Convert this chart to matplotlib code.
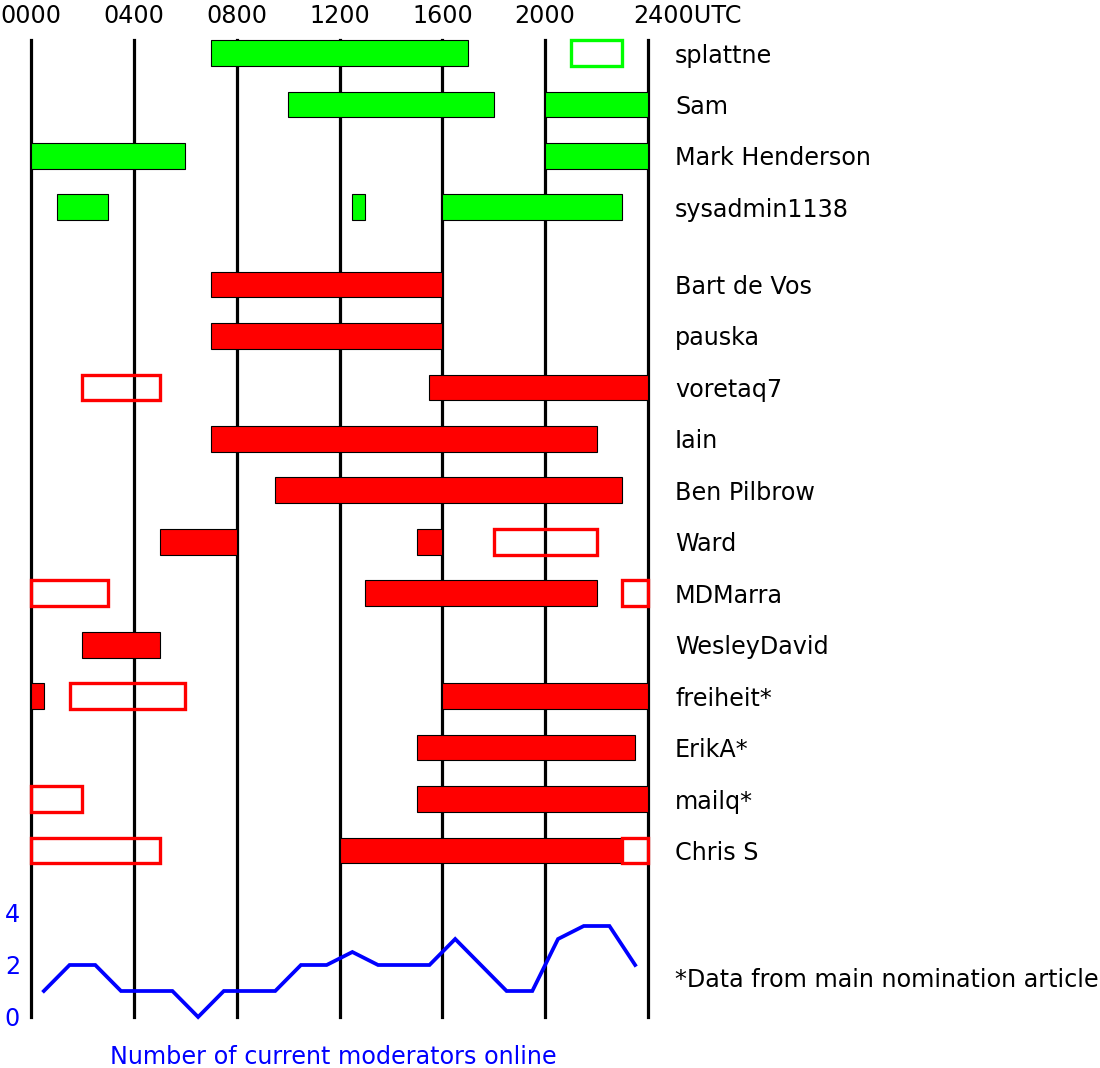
import matplotlib
matplotlib.use("Agg")
import matplotlib.pyplot as plt

plt.rcParams['font.family'] = ['DejaVu Sans']

W, H = 1100, 1068
names = ["splattne", "Sam", "Mark Henderson", "sysadmin1138",
         "Bart de Vos", "pauska", "voretaq7", "Iain", "Ben Pilbrow", "Ward",
         "MDMarra", "WesleyDavid", "freiheit*", "ErikA*", "mailq*", "Chris S"]
row_pos = [0, 1, 2, 3, 4.5, 5.5, 6.5, 7.5, 8.5, 9.5, 10.5, 11.5, 12.5, 13.5, 14.5, 15.5]
colors = ["#00ff00"] * 4 + ["#ff0000"] * 12

# (start hour, end hour) filled bars
filled = [
    [(7, 17)],
    [(10, 18), (20, 24)],
    [(0, 6), (20, 24)],
    [(1, 3), (12.5, 13), (16, 23)],
    [(7, 16)],
    [(7, 16)],
    [(15.5, 24)],
    [(7, 22)],
    [(9.5, 23)],
    [(5, 8), (15, 16)],
    [(13, 22)],
    [(2, 5)],
    [(0, 0.5), (16, 24)],
    [(15, 23.5)],
    [(15, 24)],
    [(12, 23)],
]
# outline-only (uncertain) bars
outline = [
    [(21, 23)],
    [],
    [],
    [],
    [],
    [],
    [(2, 5)],
    [],
    [],
    [(18, 22)],
    [(0, 3), (23, 24)],
    [],
    [(1.5, 6)],
    [],
    [(0, 2)],
    [(0, 5), (23, 24)],
]

count_hours = [0.5, 1.5, 2.5, 3.5, 4.5, 5.5, 6.5, 7.5, 8.5, 9.5, 10.5, 11.5,
               12.5, 13.5, 14.5, 15.5, 16.5, 17.5, 18.5, 19.5, 20.5, 21.5, 22.5, 23.5]
count_vals = [1, 2, 2, 1, 1, 1, 0, 1, 1, 1, 2, 2,
              2.5, 2, 2, 2, 3, 2, 1, 1, 3, 3.5, 3.5, 2]

hour_ticks = [0, 4, 8, 12, 16, 20, 24]
hour_labels = ["0000", "0400", "0800", "1200", "1600", "2000", "2400UTC"]

FS = 17.2
fig = plt.figure(figsize=(W / 100, H / 100), dpi=100)

x0, x1 = 31, 648
pxh = (x1 - x0) / 24.0
ytop, ybot = 40, 1017
ax = fig.add_axes([x0 / W, 1 - ybot / H, (x1 - x0) / W, (ybot - ytop) / H])
ax.set_xlim(0, 24)
row_px = 51.45
ax.set_ylim((ybot - 53) / row_px, -(53 - ytop) / row_px)
ax.axis("off")

for h in hour_ticks:
    ax.axvline(h, color="black", lw=2.3, zorder=1, clip_on=False)

bh = 0.5
for i, y in enumerate(row_pos):
    c = colors[i]
    for s, e in filled[i]:
        ax.barh(y, e - s, left=s, height=bh, color=c, edgecolor="black",
                linewidth=0.8, zorder=3, clip_on=False)
    for s, e in outline[i]:
        ax.barh(y, e - s, left=s, height=bh, color="none", edgecolor=c,
                linewidth=2.4, zorder=3, clip_on=False)
    ax.text(x=24 + (675 - 648) / pxh, y=y + 2.5 / row_px, s=names[i],
            ha="left", va="center", fontsize=FS, clip_on=False)

for h, lab in zip(hour_ticks, hour_labels):
    if lab.endswith("UTC"):
        ax.text(h - 15 / pxh, -(53 - 16) / row_px, lab, ha="left",
                va="center", fontsize=FS, clip_on=False)
    else:
        ax.text(h, -(53 - 16) / row_px, lab, ha="center", va="center",
                fontsize=FS, clip_on=False)

# moderators online line chart
ax2 = fig.add_axes([x0 / W, 1 - 1017 / H, (x1 - x0) / W, 104 / H])
ax2.set_xlim(0, 24)
ax2.set_ylim(0, 4)
ax2.patch.set_alpha(0)
for sp in ax2.spines.values():
    sp.set_visible(False)
ax2.plot(count_hours, count_vals, color="#0000ff", lw=2.7, zorder=2,
         solid_joinstyle="miter", clip_on=False)
ax2.set_xticks([])
ax2.set_yticks([0, 2, 4])
ax2.set_yticklabels(["0", "2", "4"], color="#0000ff", fontsize=FS)
ax2.tick_params(axis="y", length=0, pad=8)
ax2.text((333 - x0) / pxh, -1.55, "Number of current moderators online",
         color="#0000ff", ha="center", va="center", fontsize=FS, clip_on=False)
ax2.text(24 + (675 - 648) / pxh, 1.42,
         "*Data from main nomination article", ha="left", va="center",
         fontsize=FS, clip_on=False)

fig.savefig("out.png", dpi=100)
